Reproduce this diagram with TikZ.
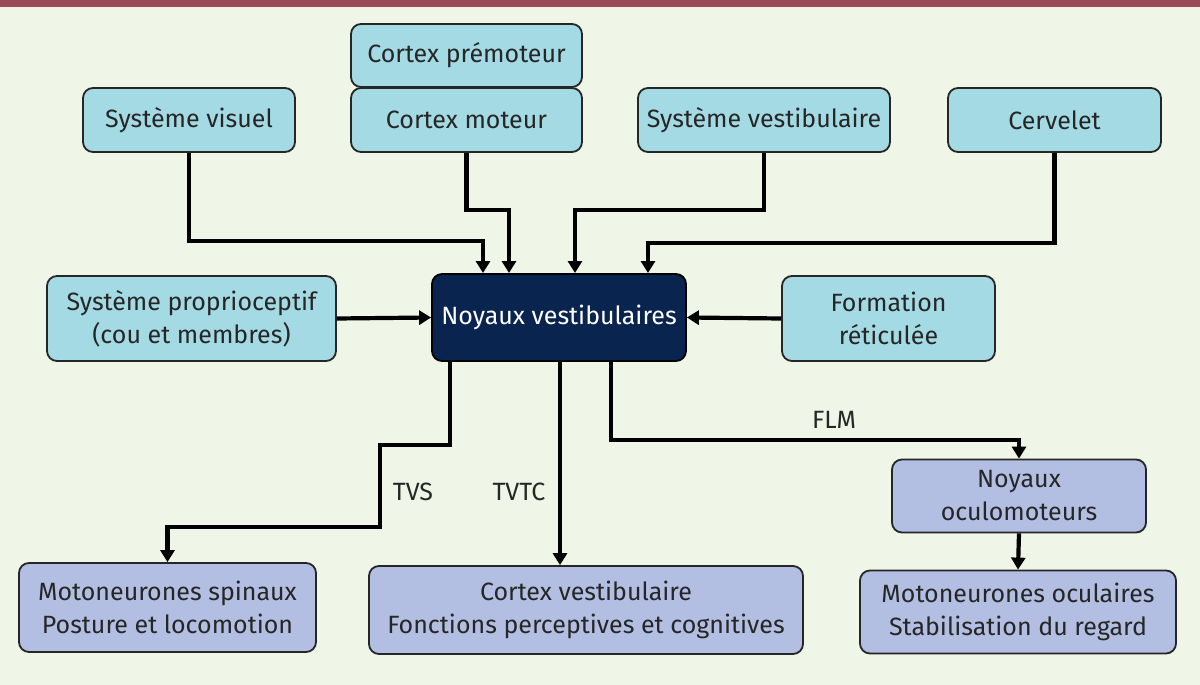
\documentclass[tikz,border=0pt]{standalone}
\usepackage{fontspec}
\setmainfont{Fira Sans}[Scale=1]
\usetikzlibrary{arrows.meta}
\definecolor{bg}{HTML}{EFF5E7}
\definecolor{topbar}{HTML}{9A4A58}
\definecolor{cyanbox}{HTML}{A3DAE3}
\definecolor{navy}{HTML}{0A2450}
\definecolor{lav}{HTML}{B2BFE2}
\tikzset{
  inbox/.style={draw=black!85, line width=1.8pt, rounded corners=10pt, fill=cyanbox, align=center, inner sep=0pt, font=\fontsize{25}{33}\selectfont\color{black!85}},
  outbox/.style={inbox, fill=lav},
  mainbox/.style={inbox, fill=navy, draw=black, font=\fontsize{25}{33}\selectfont\color{white}},
  conn/.style={line width=4.2pt, -{Triangle[length=12pt,width=14pt]}},
  lbl/.style={font=\fontsize{25}{30}\selectfont\color{black!85}}
}
\begin{document}
\begin{tikzpicture}[x=1pt,y=-1pt]
\fill[bg] (0,0) rectangle (1200,685);
\fill[topbar] (0,0) rectangle (1200,7);
\useasboundingbox (0,0) rectangle (1200,685);
% top boxes
\node[inbox, minimum width=212pt, minimum height=64pt] (visuel) at (189,120) {Système visuel};
\node[inbox, minimum width=231pt, minimum height=63pt] (premot) at (466.5,55.5) {Cortex prémoteur};
\node[inbox, minimum width=231pt, minimum height=64pt] (moteur) at (466.5,120) {Cortex moteur};
\node[inbox, minimum width=252pt, minimum height=64pt] (vestib) at (764,120) {Système vestibulaire};
\node[inbox, minimum width=213pt, minimum height=64pt] (cerv) at (1054.5,120) {Cervelet};
% middle row
\node[inbox, minimum width=289pt, minimum height=85pt] (proprio) at (191.5,318.5) {Système proprioceptif\\(cou et membres)};
\node[mainbox, minimum width=254pt, minimum height=87pt] (noyaux) at (559,317.5) {Noyaux vestibulaires};
\node[inbox, minimum width=213pt, minimum height=85pt] (form) at (888.5,318.5) {Formation\\réticulée};
% lower boxes
\node[outbox, minimum width=254pt, minimum height=73pt] (oculo) at (1019,496) {Noyaux\\oculomoteurs};
\node[outbox, minimum width=297pt, minimum height=89pt] (spin) at (167.5,607.5) {Motoneurones spinaux\\Posture et locomotion};
\node[outbox, minimum width=434pt, minimum height=88pt] (cortv) at (586,610) {Cortex vestibulaire\\Fonctions perceptives et cognitives};
\node[outbox, minimum width=316pt, minimum height=83pt] (ocul) at (1018,612) {Motoneurones oculaires\\Stabilisation du regard};
% coordinates
\coordinate (e1) at (483,273);
\coordinate (e2) at (509,273);
\coordinate (e3) at (575,273);
\coordinate (e4) at (648,273);
% connectors in
\draw[conn] (visuel.south) |- (483,241) -- (e1);
\draw[conn] (moteur.south) |- (509,210) -- (e2);
\draw[conn] (vestib.south) |- (575,210) -- (e3);
\draw[conn] (cerv.south) |- (648,243) -- (e4);
\draw[conn] (proprio.east) -- (noyaux.west);
\draw[conn] (form.west) -- (noyaux.east);
% connectors out
\draw[conn] (450,361) -- (450,445) -- (380,445) -- (380,527) -| (spin.north);
\draw[conn] (560,361) -- (cortv.north -| 560,0);
\draw[conn] (611,361) |- (1019,440) -- (oculo.north);
\draw[conn] (oculo.south) -- (ocul.north);
% labels
\node[lbl] (tvs) at (413,492) {TVS};
\node[lbl] (tvtc) at (519,492) {TVTC};
\node[lbl] (flm) at (834,420) {FLM};
\end{tikzpicture}
\end{document}
